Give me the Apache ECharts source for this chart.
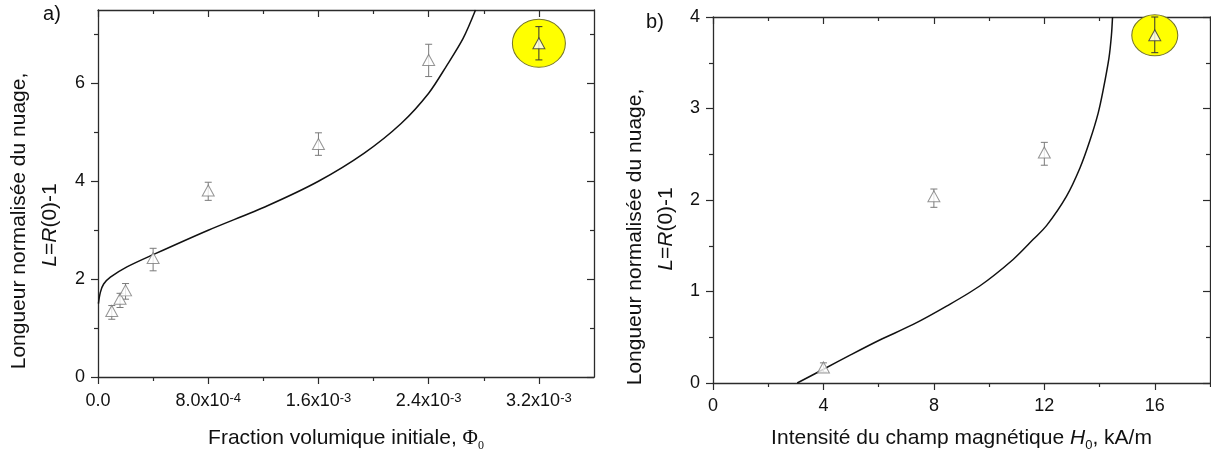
<!DOCTYPE html>
<html>
<head>
<meta charset="utf-8">
<script src="https://cdn.jsdelivr.net/npm/echarts@6/dist/echarts.min.js"></script>
<style>
html,body{margin:0;padding:0;background:#fff;}
#chart{width:1211px;height:459px;}
</style>
</head>
<body>
<div id="chart"></div>
<script>
// ---------- Panel a data ----------
const phiA    = [1.0e-4, 1.6e-4, 2.0e-4, 4.0e-4, 8.0e-4, 1.6e-3, 2.4e-3];
const lenA    = [1.35, 1.60, 1.77, 2.43, 3.81, 4.76, 6.48];
const lenALow = [1.18, 1.42, 1.59, 2.17, 3.61, 4.53, 6.14];
const lenAHigh= [1.46, 1.71, 1.91, 2.63, 3.98, 4.99, 6.80];
const highlightA = [3.2e-3, 6.82, 6.48, 7.16]; // x, y, low, high
const curveAX = [0.03e-4, 0.17e-4, 0.41e-4, 0.9e-4, 2.1e-4, 4.0e-4, 8.0e-4, 1.23e-3, 1.6e-3, 1.93e-3, 2.2e-3, 2.4e-3, 2.53e-3, 2.65e-3, 2.74e-3];
const curveAY = [1.50, 1.73, 1.90, 2.04, 2.25, 2.50, 3.00, 3.50, 4.00, 4.57, 5.18, 5.80, 6.36, 6.92, 7.50];
const xTickValsA  = [0, 8e-4, 1.6e-3, 2.4e-3, 3.2e-3];
const xTickMantA  = ['0.0', '8.0x10', '1.6x10', '2.4x10', '3.2x10'];
const xTickExpA   = ['', '-4', '-3', '-3', '-3'];
const xMinorValsA = [4e-4, 1.2e-3, 2.0e-3, 2.8e-3];
const yTickValsA  = [0, 2, 4, 6];
const yTickTextA  = ['0', '2', '4', '6'];
const yMinorValsA = [1, 3, 5, 7];

// ---------- Panel b data ----------
const hB     = [4, 8, 12];
const lenB   = [0.17, 2.04, 2.52];
const lenBLow= [0.12, 1.92, 2.38];
const lenBHigh=[0.22, 2.12, 2.63];
const highlightB = [16, 3.80, 3.61, 4.0];
const curveBX = [3.05, 4.0, 5.0, 6.04, 7.25, 8.46, 9.66, 10.87, 11.6, 12.08, 12.8, 13.29, 13.65, 13.95, 14.13, 14.34, 14.43, 14.47];
const curveBY = [0.00, 0.15, 0.31, 0.47, 0.64, 0.84, 1.06, 1.35, 1.57, 1.72, 2.04, 2.35, 2.65, 2.95, 3.20, 3.55, 3.80, 4.00];
const xTickValsB  = [0, 4, 8, 12, 16];
const xTickTextB  = ['0', '4', '8', '12', '16'];
const xMinorValsB = [2, 6, 10, 14, 18];
const yTickValsB  = [0, 1, 2, 3, 4];
const yTickTextB  = ['0', '1', '2', '3', '4'];
const yMinorValsB = [0.5, 1.5, 2.5, 3.5];

const FONT = "'Liberation Sans', Arial, sans-serif";
const AXIS = '#2b2b2b';
const TXT = '#111';

function findIdx(vals, v) {
  let best = -1, bd = Infinity;
  vals.forEach((t, i) => { const d = Math.abs(t - v); if (d < bd) { bd = d; best = i; } });
  const span = Math.abs(vals[vals.length - 1] - vals[0]) || 1;
  return bd < span * 1e-6 ? best : -1;
}

const TICKSIZE = 18;
const labelRich = {
  m: { fontSize: TICKSIZE, fontFamily: FONT, color: TXT },
  s: { fontSize: 13, fontFamily: FONT, color: TXT, verticalAlign: 'top', padding: [0, 0, 0, 0] }
};

function axisSet(gridIndex, isX, min, max, majorVals, minorVals, fmt, margin, extra) {
  const pos = isX ? 'bottom' : 'left';
  const opp = isX ? 'top' : 'right';
  const base = {
    type: 'value', gridIndex: gridIndex, min: min, max: max,
    splitLine: { show: false }, silent: true
  };
  const lineStyle = { color: AXIS, width: 1.3 };
  return [
    Object.assign({}, base, {
      position: pos,
      axisLine: { show: true, onZero: false, lineStyle: lineStyle },
      axisTick: { show: true, inside: false, length: 7, customValues: majorVals, lineStyle: { color: AXIS, width: 1.2 } },
      axisLabel: { show: true, customValues: majorVals, margin: margin, formatter: fmt, rich: labelRich, fontSize: TICKSIZE, fontFamily: FONT, color: TXT }
    }, extra || {}),
    Object.assign({}, base, {
      position: pos,
      axisLine: { show: false, onZero: false },
      axisTick: { show: true, inside: false, length: 4, customValues: minorVals, lineStyle: { color: AXIS, width: 1.2 } },
      axisLabel: { show: false }
    }),
    Object.assign({}, base, {
      position: opp,
      axisLine: { show: true, onZero: false, lineStyle: lineStyle },
      axisTick: { show: true, inside: true, length: 7, customValues: majorVals, lineStyle: { color: AXIS, width: 1.2 } },
      axisLabel: { show: false }
    }),
    Object.assign({}, base, {
      position: opp,
      axisLine: { show: false, onZero: false },
      axisTick: { show: true, inside: true, length: 4, customValues: minorVals, lineStyle: { color: AXIS, width: 1.2 } },
      axisLabel: { show: false }
    })
  ];
}

const fmtXA = v => { const i = findIdx(xTickValsA, v); if (i < 0) return ''; return xTickExpA[i] ? '{m|' + xTickMantA[i] + '}{s|' + xTickExpA[i] + '}' : '{m|' + xTickMantA[i] + '}'; };
const fmtYA = v => { const i = findIdx(yTickValsA, v); return i < 0 ? '' : yTickTextA[i]; };
const fmtXB = v => { const i = findIdx(xTickValsB, v); return i < 0 ? '' : xTickTextB[i]; };
const fmtYB = v => { const i = findIdx(yTickValsB, v); return i < 0 ? '' : yTickTextB[i]; };

const NAMESIZE = 21;
const nameRich = {
  n: { fontSize: NAMESIZE, fontFamily: FONT, color: TXT },
  i: { fontSize: NAMESIZE, fontFamily: FONT, color: TXT, fontStyle: 'italic' },
  phi: { fontSize: NAMESIZE, fontFamily: "'Liberation Serif', 'DejaVu Serif', serif", color: TXT },
  sub: { fontSize: 12, fontFamily: "'Liberation Serif', serif", color: TXT, padding: [16, 0, 0, 0] },
  subs: { fontSize: 13, fontFamily: FONT, color: TXT, padding: [15, 0, 0, 0] }
};

const xAxes = []
  .concat(axisSet(0, true, 0, 3.6e-3, xTickValsA, xMinorValsA, fmtXA, 15, {
    name: '{n|Fraction volumique initiale, }{phi|Φ}{sub|0}', nameLocation: 'middle', nameGap: 47,
    nameTextStyle: { rich: nameRich }
  }))
  .concat(axisSet(1, true, 0, 18, xTickValsB, xMinorValsB, fmtXB, 14, {
    name: '{n|Intensité du champ magnétique }{i|H}{subs|0}{n|, kA/m}', nameLocation: 'middle', nameGap: 41,
    nameTextStyle: { rich: nameRich }
  }));
const yAxes = []
  .concat(axisSet(0, false, 0, 7.5, yTickValsA, yMinorValsA, fmtYA, 13))
  .concat(axisSet(1, false, 0, 4, yTickValsB, yMinorValsB, fmtYB, 13));

function errRender(color) {
  return function (params, api) {
    const x = api.value(0), lo = api.value(1), hi = api.value(2);
    const pH = api.coord([x, hi]), pL = api.coord([x, lo]);
    const w = 3.5;
    const st = { stroke: color, lineWidth: 1 };
    return {
      type: 'group', children: [
        { type: 'line', shape: { x1: pH[0], y1: pH[1], x2: pL[0], y2: pL[1] }, style: st },
        { type: 'line', shape: { x1: pH[0] - w, y1: pH[1], x2: pH[0] + w, y2: pH[1] }, style: st },
        { type: 'line', shape: { x1: pL[0] - w, y1: pL[1], x2: pL[0] + w, y2: pL[1] }, style: st }
      ]
    };
  };
}

function panelSeries(xi, yi, xs, ys, lows, highs, hl, cx, cy, circleSize) {
  return [
    { // highlight circle
      type: 'scatter', xAxisIndex: xi, yAxisIndex: yi, clip: false, silent: true,
      symbol: 'circle', symbolSize: circleSize, z: 1,
      itemStyle: { color: '#ffff00', borderColor: '#77772a', borderWidth: 1, opacity: 1 },
      data: [[hl[0], hl[1]]]
    },
    {
      type: 'line', xAxisIndex: xi, yAxisIndex: yi, showSymbol: false, silent: true, clip: false,
      smooth: 0.3, z: 3,
      lineStyle: { color: '#111', width: 1.5 },
      data: cx.map((v, i) => [v, cy[i]])
    },
    {
      type: 'custom', xAxisIndex: xi, yAxisIndex: yi, silent: true, clip: false, z: 4,
      renderItem: errRender('#7a7a7a'),
      data: xs.map((v, i) => [v, lows[i], highs[i]])
    },
    {
      type: 'custom', xAxisIndex: xi, yAxisIndex: yi, silent: true, clip: false, z: 4,
      renderItem: errRender('#333'),
      data: [[hl[0], hl[2], hl[3]]]
    },
    {
      type: 'scatter', xAxisIndex: xi, yAxisIndex: yi, silent: true, clip: false, z: 5,
      symbol: 'triangle', symbolSize: [12, 11],
      itemStyle: { color: '#fff', borderColor: '#7a7a7a', borderWidth: 1 },
      data: xs.map((v, i) => [v, ys[i]])
    },
    {
      type: 'scatter', xAxisIndex: xi, yAxisIndex: yi, silent: true, clip: false, z: 5,
      symbol: 'triangle', symbolSize: [12, 11],
      itemStyle: { color: '#fff', borderColor: '#333', borderWidth: 1 },
      data: [[hl[0], hl[1]]]
    }
  ];
}

const series = []
  .concat(panelSeries(0, 0, phiA, lenA, lenALow, lenAHigh, highlightA, curveAX, curveAY, [53, 48]))
  .concat(panelSeries(4, 4, hB, lenB, lenBLow, lenBHigh, highlightB, curveBX, curveBY, [46, 41]));

function vText(x, y, text) {
  return {
    type: 'text', x: x, y: y, rotation: Math.PI / 2, silent: true,
    style: { text: text, rich: nameRich, align: 'center', verticalAlign: 'middle', font: NAMESIZE + 'px ' + FONT, fill: TXT }
  };
}

const option = {
  animation: false,
  backgroundColor: '#fff',
  grid: [
    { left: 98, top: 10, width: 496, height: 367 },
    { left: 713, top: 17, width: 497, height: 366 }
  ],
  xAxis: xAxes,
  yAxis: yAxes,
  series: series,
  graphic: [
    vText(19, 221, '{n|Longueur normalisée du nuage,}'),
    vText(50, 225, '{i|L}{n|=}{i|R}{n|(0)-1}'),
    vText(635, 237, '{n|Longueur normalisée du nuage,}'),
    vText(666, 229, '{i|L}{n|=}{i|R}{n|(0)-1}'),
    { type: 'text', x: 52, y: 14, silent: true, style: { text: 'a)', font: '20px ' + FONT, fill: TXT, align: 'center', verticalAlign: 'middle' } },
    { type: 'text', x: 655, y: 22, silent: true, style: { text: 'b)', font: '20px ' + FONT, fill: TXT, align: 'center', verticalAlign: 'middle' } }
  ]
};

const chart = echarts.init(document.getElementById('chart'), null, { renderer: 'canvas' });
chart.setOption(option);
</script>
</body>
</html>
